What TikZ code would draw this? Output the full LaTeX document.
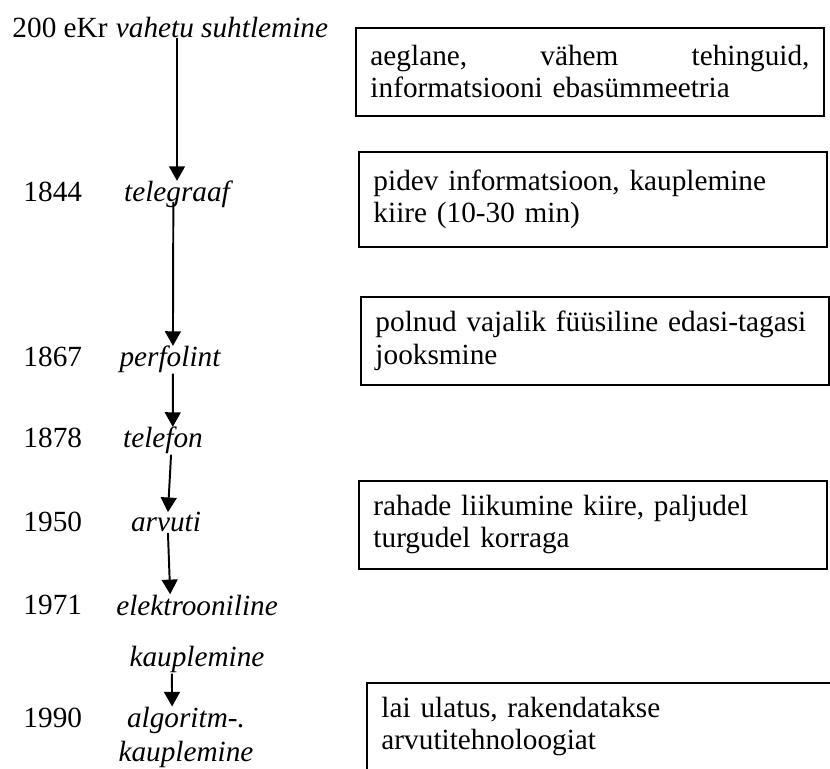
\documentclass[tikz,border=0pt]{standalone}
\usepackage{fontspec}
\setmainfont{Liberation Serif}
\usetikzlibrary{positioning,arrows.meta}

\begin{document}
\begin{tikzpicture}[
  x=0.41pt, y=-0.41pt,
  every node/.style={font=\fontsize{12}{13.2}\selectfont, inner sep=0pt},
  year/.style={anchor=base west},
  event/.style={anchor=base, align=center, font=\fontsize{12}{13.8}\selectfont\itshape},
  note/.style={draw, line width=0.7pt, anchor=north west, text width=180pt, align=left,
    inner xsep=6pt, inner ysep=5pt, minimum height=36pt},
  arrow/.style={-{Triangle[length=6pt,width=6.5pt]}, line width=0.8pt}
]
\useasboundingbox (0,0) rectangle (830,769);
% timeline
\node[year] (y0) at (12,38) {200 eKr};
\node[event, base right=3pt of y0] (e0) {vahetu suhtlemine};
\node[year] (y1) at (23,202) {1844};
\node[event] (e1) at (177,202) {telegraaf};
\node[year] (y2) at (23,367) {1867};
\node[event] (e2) at (170,367) {perfolint};
\node[year] (y3) at (23,448) {1878};
\node[event] (e3) at (163,448) {telefon};
\node[year] (y4) at (23,532) {1950};
\node[event] (e4) at (166,532) {arvuti};
\node[year] (y5) at (23,615) {1971};
\node[event] (e5) at (197,667) {elektrooniline\\[7.5pt]kauplemine};
\node[year] (y6) at (23,727) {1990};
\node[event] (e6) at (186,761) {algoritm-.\\kauplemine};
% notes
\node[note] (n1) at (355,27) {aeglane,\hfill vähem\hfill tehinguid,\\informatsiooni ebasümmeetria};
\node[note, minimum height=39pt] (n2) at (358,151) {pidev informatsioon, kauplemine\\kiire (10-30 min)};
\node[note] (n3) at (360,296) {polnud vajalik füüsiline edasi-tagasi\\jooksmine};
\node[note] (n4) at (358,480) {rahade liikumine kiire, paljudel\\turgudel korraga};
\node[note] (n5) at (366,682) {lai ulatus, rakendatakse\\arvutitehnoloogiat};
% arrows
\draw[arrow] (e0.base -| e1.north) -- (e1.north);
\draw[arrow] ([xshift=-1.5pt]e1.base) -- ([xshift=1.2pt]e2.north);
\draw[arrow] ([xshift=1.2pt]e2.south) -- ([xshift=4pt]e3.north);
\draw[arrow] ([xshift=3.3pt]e3.south) -- ([xshift=0.8pt]e4.north);
\draw[arrow] ([xshift=0.8pt]e4.south) -- ([xshift=-11pt]e5.north);
\draw[arrow] ([xshift=-10.3pt]e5.south) -- ([xshift=-5.7pt]e6.north);
\end{tikzpicture}
\end{document}
